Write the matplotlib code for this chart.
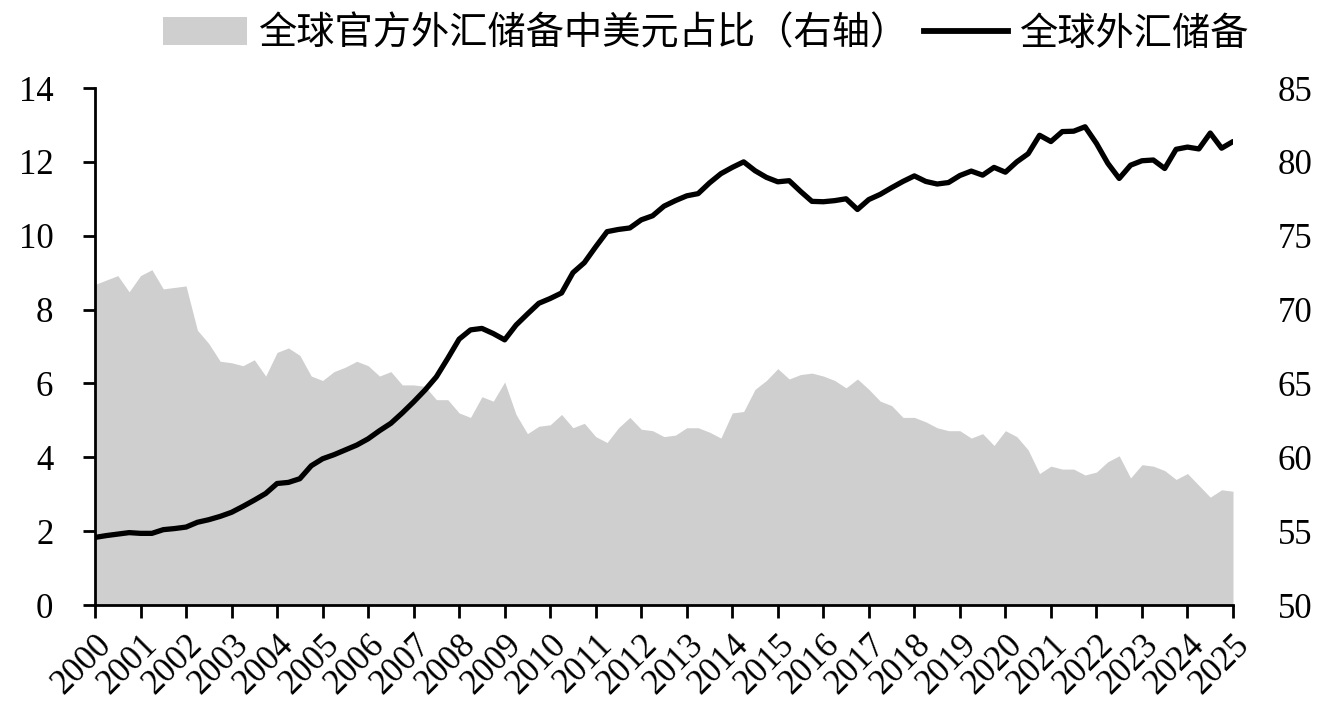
import numpy as np
import matplotlib
matplotlib.use("Agg")
import matplotlib.pyplot as plt
from matplotlib.patches import Patch
from matplotlib.lines import Line2D

# Quarterly data, 2000Q1 - 2025Q1
usd_share = [71.7, 72.0, 72.3, 71.2, 72.3, 72.7, 71.4, 71.5, 71.6, 68.6,
             67.7, 66.5, 66.4, 66.2, 66.6, 65.5, 67.1, 67.4, 66.9, 65.5,
             65.2, 65.8, 66.1, 66.5, 66.2, 65.5, 65.8, 64.9, 64.9, 64.8,
             63.9, 63.9, 63.0, 62.7, 64.1, 63.8, 65.1, 62.9, 61.6, 62.1,
             62.2, 62.9, 62.0, 62.3, 61.4, 61.0, 62.0, 62.7, 61.9, 61.8,
             61.4, 61.5, 62.0, 62.0, 61.7, 61.3, 63.0, 63.1, 64.6, 65.2,
             66.0, 65.3, 65.6, 65.7, 65.5, 65.2, 64.7, 65.3, 64.6, 63.8,
             63.5, 62.7, 62.7, 62.4, 62.0, 61.8, 61.8, 61.3, 61.6, 60.8,
             61.8, 61.4, 60.5, 58.9, 59.4, 59.2, 59.2, 58.8, 59.0, 59.7,
             60.1, 58.6, 59.5, 59.4, 59.1, 58.5, 58.9, 58.1, 57.3, 57.8,
             57.7]

reserves = [1.83, 1.88, 1.92, 1.96, 1.94, 1.94, 2.04, 2.07, 2.11, 2.24,
            2.31, 2.40, 2.51, 2.67, 2.84, 3.02, 3.29, 3.32, 3.42, 3.77,
            3.96, 4.07, 4.20, 4.33, 4.50, 4.72, 4.92, 5.20, 5.50, 5.82,
            6.18, 6.68, 7.20, 7.45, 7.49, 7.35, 7.18, 7.58, 7.88, 8.17,
            8.30, 8.45, 9.00, 9.27, 9.70, 10.11, 10.17, 10.21, 10.43, 10.54,
            10.80, 10.95, 11.08, 11.14, 11.43, 11.68, 11.85, 12.00, 11.76, 11.58,
            11.46, 11.49, 11.20, 10.93, 10.92, 10.95, 11.00, 10.71, 10.98, 11.12,
            11.30, 11.47, 11.62, 11.47, 11.40, 11.44, 11.63, 11.75, 11.64, 11.85,
            11.72, 12.00, 12.22, 12.72, 12.55, 12.82, 12.83, 12.95, 12.50, 11.96,
            11.55, 11.91, 12.03, 12.05, 11.82, 12.34, 12.40, 12.35, 12.78, 12.37,
            12.55]

years = list(range(2000, 2026))
year_labels = [str(y) for y in years]
legend_labels = ["全球官方外汇储备中美元占比（右轴）", "全球外汇储备"]

x = 2000 + 0.25 * np.arange(len(reserves))

W, H = 1323, 723
fig = plt.figure(figsize=(W / 100, H / 100), dpi=100)
ax1 = fig.add_axes([95 / W, 1 - 605 / H, (1233 - 95) / W, (605 - 88) / H])
ax2 = ax1.twinx()

gray = "#d0cfd0"
ax2.fill_between(x, 50, usd_share, color=gray, linewidth=0)
ax2.set_ylim(50, 85)
ax2.set_yticks(range(50, 86, 5))

ax1.plot(x, reserves, color="black", lw=3.8, solid_joinstyle="round",
         solid_capstyle="round")
ax1.set_ylim(0, 14)
ax1.set_yticks(range(0, 15, 2))
ax1.set_xlim(2000, 2025)
ax1.set_xticks(years)
ax1.set_xticklabels(year_labels, rotation=45, ha="right", rotation_mode="anchor")

ax1.set_zorder(ax2.get_zorder() + 1)
ax1.patch.set_visible(False)

serif = "Liberation Serif"
for ax in (ax1, ax2):
    ax.spines["top"].set_visible(False)
    for lbl in ax.get_xticklabels() + ax.get_yticklabels():
        lbl.set_fontfamily(serif)
ax2.spines["right"].set_visible(False)
ax2.spines["left"].set_visible(False)
ax2.spines["bottom"].set_visible(False)
for s in ("left", "bottom"):
    ax1.spines[s].set_linewidth(2)
    ax1.spines[s].set_color("black")
ax1.spines["right"].set_visible(False)

ax1.tick_params(axis="y", length=9, width=2, pad=21, labelsize=25)
ax1.tick_params(axis="x", length=9, width=2, pad=8, labelsize=25)
ax2.tick_params(axis="y", length=0, pad=32, labelsize=25)

handles = [Patch(facecolor=gray, edgecolor="none"),
           Line2D([], [], color="black", lw=4.2)]
fig.legend(handles, legend_labels, loc="center", ncol=2,
           bbox_to_anchor=(706 / W, 1 - 34 / H), frameon=False,
           prop={"family": ["Noto Sans CJK SC", "DejaVu Sans"], "size": 27.5},
           handlelength=2.2, handleheight=0.75, handletextpad=0.3,
           columnspacing=0.4, borderpad=0)

fig.savefig("out.png", dpi=100, facecolor="white")
